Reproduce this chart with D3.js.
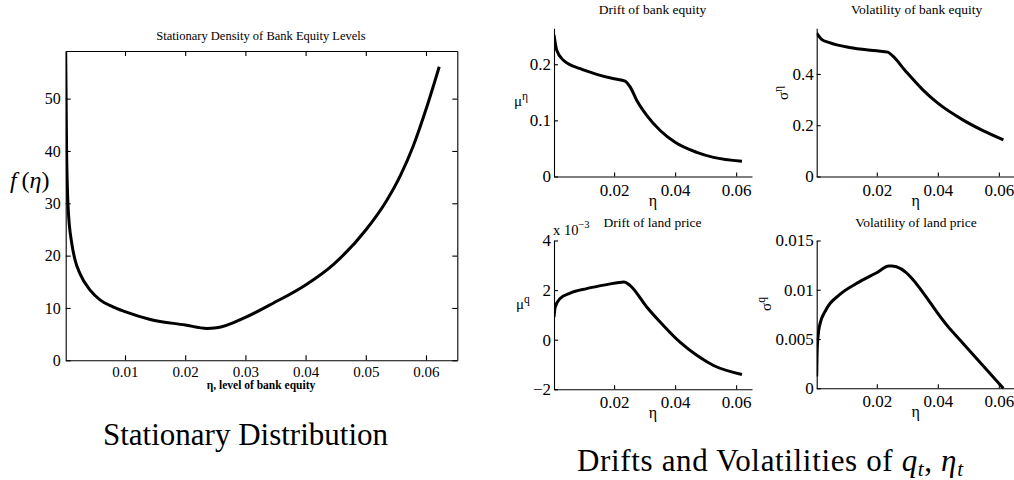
<!DOCTYPE html>
<html>
<head>
<meta charset="utf-8">
<script src="https://cdn.jsdelivr.net/npm/d3@7"></script>
<style>
  body { margin: 0; background: #fff; }
  svg { display: block; }
  text { font-family: "Liberation Serif", serif; fill: #000; }
  .axis path, .axis line { stroke: #000; stroke-width: 1.1; }
</style>
</head>
<body>
<svg id="drawing_region"></svg>
<script>
// stationary density f(eta)
const densEta = [0.00015, 0.0003, 0.00058, 0.00115, 0.0017, 0.0025, 0.0042, 0.0058, 0.008, 0.010, 0.0142, 0.020, 0.0236, 0.0252, 0.030, 0.0346, 0.040, 0.0446, 0.050, 0.0535, 0.0557, 0.0579, 0.0601, 0.0622];
const density = [59, 40, 28.7, 22.4, 19.2, 16.6, 13.4, 11.6, 10.2, 9.3, 7.8, 6.75, 6.1, 6.2, 8.2, 10.9, 14.4, 18.3, 24.9, 30.6, 35.2, 41.0, 48.3, 56.1];

// drift of bank equity mu^eta
const muEtaEta = [0.0003, 0.0012, 0.0034, 0.0089, 0.0143, 0.020, 0.0236, 0.0252, 0.0274, 0.0307, 0.0351, 0.040, 0.0471, 0.0526, 0.0619];
const muEta = [0.252, 0.225, 0.207, 0.192, 0.182, 0.174, 0.170, 0.160, 0.136, 0.109, 0.082, 0.061, 0.043, 0.034, 0.027];

// volatility of bank equity sigma^eta
const sigEtaEta = [0.0003, 0.0018, 0.0045, 0.011, 0.020, 0.0236, 0.0252, 0.0296, 0.0351, 0.040, 0.0482, 0.0548, 0.0615];
const sigEta = [0.559, 0.536, 0.522, 0.503, 0.490, 0.485, 0.470, 0.409, 0.338, 0.286, 0.221, 0.179, 0.143];

// drift of land price mu^q (x 10^-3)
const muQEta = [0.0003, 0.0007, 0.0023, 0.0056, 0.011, 0.0176, 0.0233, 0.0252, 0.0307, 0.0361, 0.0416, 0.0471, 0.0526, 0.0619];
const muQ = [0.91, 1.32, 1.66, 1.88, 2.06, 2.22, 2.33, 2.19, 1.32, 0.58, -0.10, -0.63, -1.04, -1.40];

// volatility of land price sigma^q
const sigQEta = [0.0003, 0.0005, 0.0012, 0.0034, 0.0078, 0.0143, 0.0198, 0.0240, 0.0250, 0.0438, 0.0615];
const sigQ = [0.0012, 0.0042, 0.0063, 0.0080, 0.0095, 0.0108, 0.0117, 0.0124, 0.0124, 0.0061, 0.0];

// ticks
const densXTicks = [0.01, 0.02, 0.03, 0.04, 0.05, 0.06];
const densYTicks = [0, 10, 20, 30, 40, 50];
const smallXTicks = [0.02, 0.04, 0.06];
const muEtaTicks = [0, 0.1, 0.2];
const sigEtaTicks = [0, 0.2, 0.4];
const muQTicks = [-2, 0, 2, 4];
const sigQTicks = [0, 0.005, 0.01, 0.015];

const SERIF = '"Liberation Serif", serif';

const svg = d3.select('#drawing_region').attr('width', 1014).attr('height', 480)
    .attr('font-family', SERIF);

const zip = (xs, ys) => xs.map((x, i) => ({x: x, y: ys[i]}));
const fmtMinus = d => d < 0 ? '\u2212' + Math.abs(d) : String(d);

// d3 axes put sans-serif on the group, put the serif back
function styleAxis(g, size) {
    g.attr('font-family', SERIF).attr('font-size', size);
    g.selectAll('text').style('font-family', SERIF).attr('fill', '#000');
}

let clipId = 0;
function drawCurve(g, xscale, yscale, data, x0, x1, y0, y1) {
    const id = 'clip' + (clipId++);
    g.append('clipPath').attr('id', id)
        .append('rect').attr('x', x0).attr('y', y0 - 2).attr('width', x1 - x0 + 4).attr('height', y1 - y0 + 4);
    const line = d3.line()
        .x(d => xscale(d.x))
        .y(d => yscale(d.y))
        .curve(d3.curveMonotoneX);
    g.append('path')
        .attr('clip-path', `url(#${id})`)
        .attr('d', line(data))
        .attr('fill', 'none')
        .attr('stroke', '#000')
        .attr('stroke-width', 3)
        .attr('stroke-linejoin', 'round');
}

// ---- left chart ----
{
    const g = svg.append('g');
    const L = 65.7, R = 457.3, T = 51, B = 360.3;
    const xscale = d3.scaleLinear().domain([0.00015, 0.0652]).range([L, R]);
    const yscale = d3.scaleLinear().domain([0, 59.1]).range([B, T]);

    g.append('g').attr('class', 'axis').attr('transform', `translate(0,${B})`)
        .call(d3.axisBottom(xscale).tickValues(densXTicks).tickSizeInner(-5).tickSizeOuter(0).tickPadding(6).tickFormat(d3.format('.2f')))
        .call(styleAxis, 15);
    g.append('g').attr('class', 'axis').attr('transform', `translate(0,${T})`)
        .call(d3.axisTop(xscale).tickValues(densXTicks).tickSizeInner(-5).tickSizeOuter(0).tickFormat(''));
    g.append('g').attr('class', 'axis').attr('transform', `translate(${L},0)`)
        .call(d3.axisLeft(yscale).tickValues(densYTicks).tickSizeInner(-5).tickSizeOuter(0).tickPadding(5))
        .call(styleAxis, 16);
    g.append('g').attr('class', 'axis').attr('transform', `translate(${R},0)`)
        .call(d3.axisRight(yscale).tickValues(densYTicks).tickSizeInner(-5).tickSizeOuter(0).tickFormat(''));

    drawCurve(g, xscale, yscale, zip(densEta, density), L, R, T, B);

    g.append('text').attr('x', 261).attr('y', 40).attr('text-anchor', 'middle')
        .attr('font-size', 12.5).text('Stationary Density of Bank Equity Levels');
    g.append('text').attr('x', 261).attr('y', 389).attr('text-anchor', 'middle')
        .attr('font-size', 11.5).attr('font-weight', 'bold').text('\u03b7, level of bank equity');

    const fl = g.append('text').attr('x', 10).attr('y', 188).attr('font-size', 24);
    fl.append('tspan').attr('font-style', 'italic').text('f');
    fl.append('tspan').text('\u2009(');
    fl.append('tspan').attr('font-style', 'italic').text('\u03b7');
    fl.append('tspan').text(')');
}

// ---- small plots ----
function smallPlot(cfg) {
    const g = svg.append('g');
    const xscale = d3.scaleLinear().domain([0.0003, 0.0652]).range([cfg.left, cfg.left + 198]);
    const yscale = d3.scaleLinear().domain(cfg.ydomain).range([cfg.bottom, cfg.top]);

    g.append('g').attr('class', 'axis').attr('transform', `translate(0,${cfg.bottom})`)
        .call(d3.axisBottom(xscale).tickValues(smallXTicks).tickSizeInner(-4).tickSizeOuter(0).tickPadding(7).tickFormat(d3.format('.2f')))
        .call(styleAxis, 17);
    g.append('g').attr('class', 'axis').attr('transform', `translate(${cfg.left},0)`)
        .call(d3.axisLeft(yscale).tickValues(cfg.yticks).tickSizeInner(-4).tickSizeOuter(0).tickPadding(3).tickFormat(cfg.yfmt))
        .call(styleAxis, 17);

    drawCurve(g, xscale, yscale, zip(cfg.eta, cfg.values), cfg.left, cfg.left + 198, cfg.top, cfg.bottom);

    g.append('text').attr('x', cfg.titleX).attr('y', cfg.top - 14).attr('text-anchor', 'middle')
        .attr('font-size', 13.5).text(cfg.title);
    g.append('text').attr('x', cfg.left + 99).attr('y', cfg.bottom + 29).attr('text-anchor', 'middle')
        .attr('font-size', 16).text('\u03b7');

    const yl = g.append('text').attr('font-size', 15);
    if (cfg.rotate) {
        yl.attr('transform', `translate(${cfg.ylx},${cfg.yly}) rotate(-90)`).attr('text-anchor', 'middle');
    } else {
        yl.attr('x', cfg.ylx).attr('y', cfg.yly);
    }
    yl.append('tspan').text(cfg.ysym);
    yl.append('tspan').attr('font-size', 11.5).attr('dy', -6).text(cfg.ysup);
    return g;
}

smallPlot({left: 554, top: 28.3, bottom: 176.5, ydomain: [0, 0.264], yticks: muEtaTicks, yfmt: d => String(d),
    eta: muEtaEta, values: muEta, title: 'Drift of bank equity', titleX: 652.5,
    ysym: '\u03bc', ysup: '\u03b7', rotate: false, ylx: 514, yly: 106});

smallPlot({left: 816.7, top: 28.3, bottom: 176.5, ydomain: [0, 0.578], yticks: sigEtaTicks, yfmt: d => String(d),
    eta: sigEtaEta, values: sigEta, title: 'Volatility of bank equity', titleX: 916.7,
    ysym: '\u03c3', ysup: '\u03b7', rotate: true, ylx: 788, yly: 93});

const p3 = smallPlot({left: 554, top: 240.5, bottom: 389.3, ydomain: [-2, 4], yticks: muQTicks, yfmt: fmtMinus,
    eta: muQEta, values: muQ, title: 'Drift of land price', titleX: 652.5,
    ysym: '\u03bc', ysup: 'q', rotate: false, ylx: 516, yly: 309});
const ex = p3.append('text').attr('x', 553).attr('y', 235).attr('font-size', 14.5);
ex.append('tspan').text('x 10');
ex.append('tspan').attr('font-size', 10.5).attr('dy', -7).text('\u22123');

smallPlot({left: 816.7, top: 240.5, bottom: 388.3, ydomain: [0, 0.015], yticks: sigQTicks, yfmt: d => String(d),
    eta: sigQEta, values: sigQ, title: 'Volatility of land price', titleX: 916,
    ysym: '\u03c3', ysup: 'q', rotate: true, ylx: 771, yly: 304});

// ---- captions ----
svg.append('text').attr('x', 103).attr('y', 445)
    .attr('font-size', 31).attr('textLength', 285).attr('lengthAdjust', 'spacing')
    .text('Stationary Distribution');

const cap = svg.append('text').attr('x', 577).attr('y', 471).attr('font-size', 31)
    .attr('textLength', 386).attr('lengthAdjust', 'spacing');
cap.append('tspan').text('Drifts and Volatilities of ');
cap.append('tspan').attr('font-style', 'italic').text('q');
cap.append('tspan').attr('font-size', 21).attr('font-style', 'italic').attr('dy', 5).text('t');
cap.append('tspan').attr('dy', -5).text(', ');
cap.append('tspan').attr('font-style', 'italic').text('\u03b7');
cap.append('tspan').attr('font-size', 21).attr('font-style', 'italic').attr('dy', 5).text('t');
</script>
</body>
</html>
